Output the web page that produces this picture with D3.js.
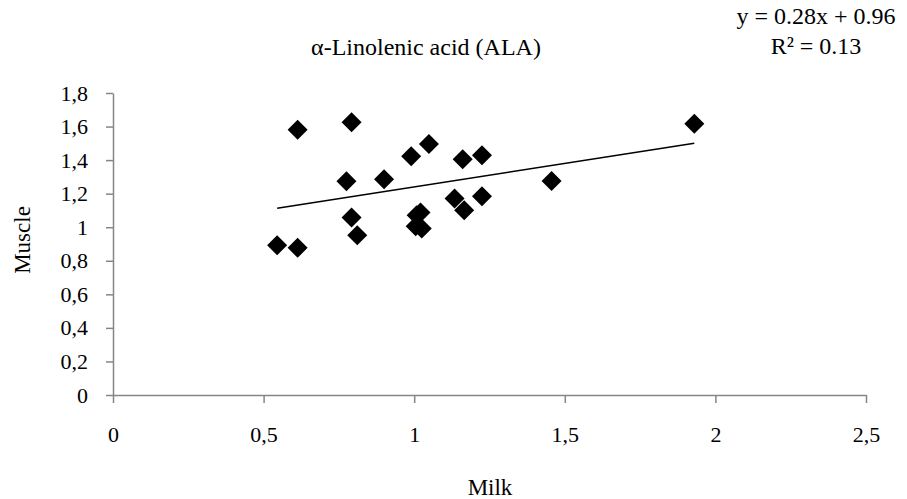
<!DOCTYPE html>
<html>
<head>
<meta charset="utf-8">
<script src="https://cdn.jsdelivr.net/npm/d3@7"></script>
<style>
  body { margin: 0; background: #fff; }
  text { font-family: "Liberation Serif", "Times New Roman", serif; fill: #000; }
</style>
</head>
<body>
<div class="chart"></div>
<script>
// milk vs muscle values
var milk   = [0.545, 0.613, 0.613, 0.792, 0.775, 0.792, 0.811, 0.900, 0.990, 1.049, 1.008,
              1.021, 1.005, 1.025, 1.134, 1.166, 1.161, 1.225, 1.225, 1.456, 1.930];
var muscle = [0.893, 0.877, 1.581, 1.625, 1.274, 1.058, 0.952, 1.286, 1.423, 1.496, 1.071,
              1.088, 1.006, 0.992, 1.171, 1.101, 1.405, 1.429, 1.185, 1.276, 1.617];
var xTicks = [0, 0.5, 1, 1.5, 2, 2.5];
var yTicks = [0, 0.2, 0.4, 0.6, 0.8, 1, 1.2, 1.4, 1.6, 1.8];
var slope = 0.28, intercept = 0.96;

var width = 907,
  height = 499,
  margin = {top: 93, right: 41, bottom: 104, left: 113};

var svg = d3.select('.chart')
  .append("svg")
  .attr("width", width)
  .attr("height", height);

var g = svg.append("g")
  .attr("transform", `translate(${margin.left},${margin.top})`);

var w = width - margin.left - margin.right,
  h = height - margin.top - margin.bottom;

var xScale = d3.scaleLinear().domain([0, 2.5]).range([0, w]);
var yScale = d3.scaleLinear().domain([0, 1.8]).range([h, 0]);

var fmt = d => String(d).replace(".", ",");

// X axis
var xAxis = g.append("g")
  .attr("transform", `translate(0,${h})`)
  .call(d3.axisBottom(xScale).tickValues(xTicks).tickFormat(fmt).tickSize(8).tickSizeOuter(0).tickPadding(23));

// Y axis
var yAxis = g.append("g")
  .call(d3.axisLeft(yScale).tickValues(yTicks).tickFormat(fmt).tickSize(7).tickSizeOuter(0).tickPadding(18));

[xAxis, yAxis].forEach(a => {
  a.selectAll("path, line").attr("stroke", "#868686").attr("stroke-width", 1.5);
  a.selectAll("text").style("font-family", '"Liberation Serif", serif').style("font-size", "22px").attr("fill", "#000");
});

// trend line
var xr = d3.extent(milk);
g.append("line")
  .attr("x1", xScale(xr[0]))
  .attr("y1", yScale(slope * xr[0] + intercept))
  .attr("x2", xScale(xr[1]))
  .attr("y2", yScale(slope * xr[1] + intercept))
  .attr("stroke", "#000")
  .attr("stroke-width", 1.5);

// points
var diamond = d3.symbol().type(d3.symbolSquare).size(200);
g.selectAll(".pt")
  .data(milk)
  .enter().append("path")
  .attr("class", "pt")
  .attr("d", diamond)
  .attr("transform", (d, i) => `translate(${xScale(d)},${yScale(muscle[i])}) rotate(45)`)
  .attr("fill", "#000");

// title
svg.append("text")
  .attr("x", 426)
  .attr("y", 55)
  .attr("text-anchor", "middle")
  .style("font-size", "24px")
  .text("α-Linolenic acid (ALA)");

// equation
svg.append("text")
  .attr("x", 816)
  .attr("y", 24)
  .attr("text-anchor", "middle")
  .style("font-size", "24px")
  .text("y = 0.28x + 0.96");
svg.append("text")
  .attr("x", 816)
  .attr("y", 54)
  .attr("text-anchor", "middle")
  .style("font-size", "24px")
  .text("R² = 0.13");

// axis titles
svg.append("text")
  .attr("x", 490)
  .attr("y", 495)
  .attr("text-anchor", "middle")
  .style("font-size", "23px")
  .text("Milk");

svg.append("text")
  .attr("text-anchor", "middle")
  .attr("transform", "translate(30,240)rotate(-90)")
  .style("font-size", "23px")
  .text("Muscle");
</script>
</body>
</html>
